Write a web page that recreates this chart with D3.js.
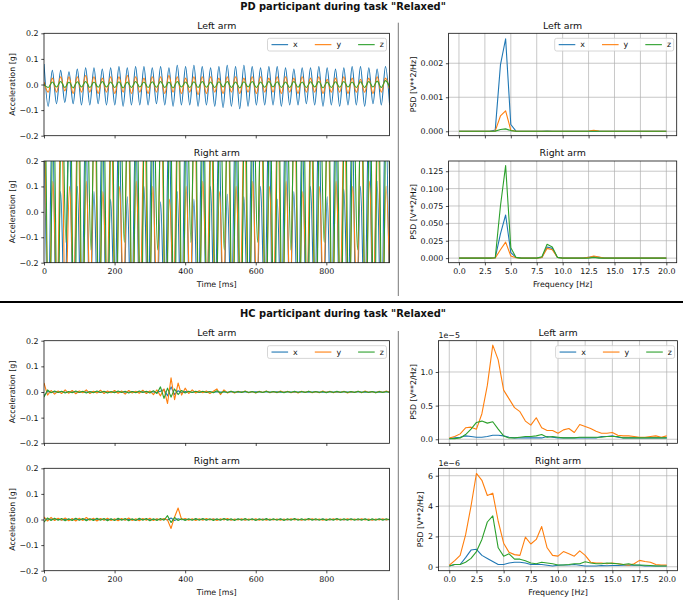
<!DOCTYPE html>
<html><head><meta charset="utf-8">
<script src="https://cdn.jsdelivr.net/npm/d3@7"></script>
<style>body{margin:0;background:#fff}svg{display:block}text{font-family:"DejaVu Sans",sans-serif}</style>
</head><body><svg id="chart"></svg>
<script>
// ---------------- DATA ----------------
const seriesNames = ["x", "y", "z"];
const timeTicks = [0, 200, 400, 600, 800];
const accelTicks = [-0.2, -0.1, 0, 0.1, 0.2];
const freqTicks = [0, 2.5, 5, 7.5, 10, 12.5, 15, 17.5, 20];
const pdLeftPsdTicks = [0, 0.001, 0.002];
const pdRightPsdTicks = [0, 0.025, 0.05, 0.075, 0.1, 0.125];
const hcLeftPsdTicks = [0, 0.5, 1.0];   // x 1e-5
const hcRightPsdTicks = [0, 2, 4, 6];   // x 1e-6
const timeMax = 979;       // ms
const pdStep = 11.8;       // ms between successive extrema (PD signals)
const hcStep = 10;         // ms between samples (HC signals)
const pdRightLag = [0, 1.6, 3.2]; // ms, x / y / z
const psdStep = 0.5;       // Hz

// PD participant, left arm (extrema)
const pdLeftX = [
 0.08,-0.085,0.055,-0.075,0.055,-0.07,0.05,-0.075,0.06,-0.08,0.065,-0.08,
 0.065,-0.075,0.06,-0.08,0.065,-0.08,0.07,-0.085,0.065,-0.08,0.07,-0.08,
 0.07,-0.08,0.065,-0.075,0.07,-0.08,0.065,-0.085,0.075,-0.08,0.07,-0.08,
 0.075,-0.085,0.07,-0.08,0.065,-0.085,0.07,-0.09,0.075,-0.085,0.07,-0.095,
 0.075,-0.085,0.07,-0.08,0.065,-0.08,0.07,-0.08,0.07,-0.085,0.065,-0.08,
 0.06,-0.08,0.065,-0.075,0.065,-0.08,0.07,-0.085,0.065,-0.08,0.06,-0.085,
 0.065,-0.08,0.07,-0.08,0.07,-0.085,0.065,-0.075,0.06,-0.08,0.07,-0.08];
const pdLeftY = [
 0.01,-0.03,0.025,-0.03,0.03,-0.025,0.03,-0.035,0.03,-0.03,0.035,-0.03,
 0.03,-0.035,0.025,-0.03,0.03,-0.035,0.03,-0.03,0.035,-0.035,0.03,-0.03,
 0.025,-0.035,0.03,-0.03,0.03,-0.035,0.035,-0.03,0.03,-0.035,0.025,-0.03,
 0.03,-0.04,0.03,-0.035,0.03,-0.03,0.025,-0.035,0.03,-0.03,0.03,-0.035,
 0.025,-0.03,0.03,-0.035,0.03,-0.03,0.025,-0.03,0.03,-0.035,0.03,-0.03,
 0.025,-0.035,0.03,-0.03,0.025,-0.03,0.03,-0.035,0.02,-0.03,0.025,-0.03,
 0.03,-0.035,0.025,-0.03,0.02,-0.03,0.025,-0.035,0.03,-0.03,0.025,-0.02];
const pdLeftZ = [
 0.0,-0.012,0.01,-0.01,0.012,-0.012,0.01,-0.013,0.011,-0.01,0.012,-0.012,
 0.01,-0.011,0.012,-0.01,0.01,-0.012,0.011,-0.013,0.01,-0.012,0.012,-0.01,
 0.01,-0.012,0.011,-0.011,0.012,-0.012,0.01,-0.013,0.012,-0.01,0.01,-0.012,
 0.011,-0.012,0.012,-0.011,0.01,-0.012,0.011,-0.01,0.012,-0.012,0.01,-0.013,
 0.011,-0.01,0.012,-0.012,0.01,-0.011,0.012,-0.01,0.011,-0.012,0.01,-0.012,
 0.012,-0.011,0.01,-0.012,0.011,-0.01,0.012,-0.013,0.01,-0.012,0.011,-0.011,
 0.012,-0.01,0.01,-0.012,0.011,-0.012,0.012,-0.01,0.013,-0.012,0.015,-0.01];

// PD participant, right arm (extrema, mostly beyond the +-0.2 view)
const pdRightX = [
 0.4,-0.45,0.4,-0.5,0.08,-0.45,0.4,-0.4,0.1,-0.5,0.38,-0.45,
 0.08,-0.45,0.4,-0.5,0.05,-0.4,0.4,-0.45,0.06,-0.5,0.35,-0.45,
 0.1,-0.4,0.4,-0.5,0.04,-0.45,0.38,-0.4,0.08,-0.5,0.4,-0.45,
 0.05,-0.45,0.4,-0.4,0.1,-0.5,0.35,-0.45,0.07,-0.4,0.4,-0.5,
 0.06,-0.45,0.38,-0.45,0.1,-0.4,0.4,-0.5,0.05,-0.45,0.4,-0.4,
 0.08,-0.5,0.35,-0.45,0.1,-0.4,0.4,-0.45,0.06,-0.5,0.4,-0.45,
 0.09,-0.4,0.38,-0.5,0.1,-0.45,0.4,-0.4,0.12,-0.5,0.4,-0.45];
const pdRightY = [
 0.4,-0.4,0.12,-0.35,0.45,-0.4,0.1,-0.3,0.4,-0.45,0.12,-0.35,
 0.45,-0.4,0.08,-0.3,0.4,-0.45,0.1,-0.35,0.45,-0.4,0.12,-0.3,
 0.4,-0.45,0.1,-0.35,0.45,-0.4,0.05,-0.3,0.4,-0.45,0.1,-0.35,
 0.45,-0.4,0.12,-0.3,0.4,-0.45,0.08,-0.35,0.45,-0.4,0.1,-0.3,
 0.4,-0.45,0.12,-0.35,0.45,-0.4,0.1,-0.3,0.4,-0.45,0.12,-0.35,
 0.45,-0.4,0.08,-0.3,0.4,-0.45,0.1,-0.35,0.45,-0.4,0.12,-0.3,
 0.4,-0.45,0.1,-0.35,0.45,-0.4,0.12,-0.3,0.4,-0.45,0.1,-0.35];
const pdRightZ = [
 0.55,-0.6,0.5,-0.55,0.55,-0.12,0.5,-0.6,0.55,-0.55,0.5,-0.15,
 0.55,-0.6,0.5,-0.55,0.55,-0.6,0.5,-0.12,0.55,-0.55,0.5,-0.6,
 0.55,-0.55,0.5,-0.15,0.55,-0.6,0.5,-0.55,0.55,-0.6,0.5,-0.12,
 0.55,-0.55,0.5,-0.6,0.55,-0.55,0.5,-0.15,0.55,-0.6,0.5,-0.55,
 0.55,-0.6,0.5,-0.12,0.55,-0.55,0.5,-0.6,0.55,-0.55,0.5,-0.15,
 0.55,-0.6,0.5,-0.55,0.55,-0.6,0.5,-0.12,0.55,-0.55,0.5,-0.6,
 0.55,-0.55,0.5,-0.15,0.55,-0.6,0.5,-0.55,0.55,-0.6,0.5,-0.12];

// HC participant, left arm (every 10 ms)
const hcLeftX = [
 -0.015,0.002,-0.002,0.001,-0.001,0.002,0,-0.001,0.001,0,-0.001,
 0.001,0,-0.001,0.002,0,-0.001,0.001,0,-0.002,0.001,0,
 0.001,-0.001,0,0.002,-0.001,0,0.001,-0.001,0.002,0,-0.002,
 0.003,0.01,-0.015,0.02,-0.01,0.005,-0.003,0.002,0,-0.001,0.001,
 0,-0.001,0.001,0,-0.001,0.001,0,0,-0.001,0.001,0,
 -0.001,0.001,0,-0.001,0,0.001,0,-0.001,0.001,0,0,
 0.001,-0.001,0,0.001,0,-0.001,0,0.001,0,-0.001,0,
 0.001,0,-0.001,0,0.001,0,-0.001,0,0.001,0,-0.001,
 0,0.001,0,-0.001,0,0.001,0,-0.001,0,0.001,0];
const hcLeftY = [
 0.035,-0.012,0.006,-0.008,0.004,-0.006,0.008,-0.005,0.006,-0.007,0.004,
 -0.003,0.008,-0.006,0.003,-0.004,0.007,-0.006,0.004,-0.003,0.006,-0.005,
 0.004,-0.008,0.006,-0.004,0.003,-0.005,0.007,-0.006,0.004,-0.01,0.008,
 -0.015,0.012,-0.045,0.055,-0.03,0.035,-0.012,0.015,-0.006,0.008,-0.004,
 0.005,-0.003,0.004,-0.006,0.003,0.012,-0.01,0.008,-0.004,0.003,-0.004,
 0.003,-0.002,0.004,-0.003,0.002,-0.004,0.003,-0.002,0.004,-0.003,0.002,
 -0.003,0.004,-0.002,0.003,-0.003,0.002,-0.004,0.003,-0.002,0.003,-0.003,
 0.002,-0.003,0.004,-0.002,0.003,-0.003,0.002,-0.002,0.003,-0.004,0.002,
 -0.002,0.003,-0.003,0.004,-0.002,0.002,-0.003,0.003,-0.002,0.004,-0.002];
const hcLeftZ = [
 -0.02,0.008,-0.003,0.004,-0.002,0.003,-0.004,0.002,-0.003,0.004,-0.002,
 0.003,-0.004,0.002,-0.003,0.004,-0.002,0.003,-0.004,0.002,-0.003,0.004,
 -0.002,0.003,-0.004,0.002,-0.003,0.004,-0.002,0.003,-0.004,0.005,-0.006,
 0.02,-0.025,0.015,-0.02,0.012,-0.01,0.006,-0.004,0.003,-0.002,0.003,
 -0.002,0.003,-0.002,0.002,-0.003,0.005,-0.004,0.002,-0.002,0.003,-0.002,
 0.002,-0.002,0.003,-0.002,0.002,-0.003,0.002,-0.002,0.003,-0.002,0.002,
 -0.002,0.002,-0.003,0.002,-0.002,0.003,-0.002,0.002,-0.002,0.003,-0.002,
 0.002,-0.002,0.002,-0.003,0.002,-0.002,0.003,-0.002,0.002,-0.002,0.002,
 -0.002,0.003,-0.002,0.002,-0.002,0.002,-0.003,0.002,-0.002,0.002,-0.002];

// HC participant, right arm (every 10 ms)
const hcRightX = [
 0.005,-0.002,0.002,-0.001,0.001,-0.002,0.001,0,-0.001,0.002,-0.001,
 0.001,-0.001,0.001,0,-0.001,0.002,-0.001,0,0.001,-0.001,0.001,
 0,-0.001,0.001,0,-0.002,0.001,0,0.001,-0.001,0,0.001,
 -0.001,0.002,-0.002,0.006,-0.004,0.003,-0.001,0.001,0,-0.001,0.001,
 0,0.001,-0.001,0,0.001,0,-0.001,0.001,0,-0.001,0,
 0.001,0,-0.001,0,0.001,-0.001,0,0.001,0,-0.001,0,
 0,0.001,0,-0.001,0,0.001,0,-0.001,0,0.001,0,
 -0.001,0,0.001,0,-0.001,0,0.001,0,-0.001,0,0.001,
 0,-0.001,0,0.001,0,-0.001,0,0.001,0,-0.001,0];
const hcRightY = [
 0.01,-0.006,0.008,-0.004,0.005,-0.003,0.006,-0.005,0.004,-0.006,0.005,
 -0.004,0.008,-0.003,0.005,-0.006,0.004,-0.003,0.005,-0.004,0.003,-0.005,
 0.004,-0.003,0.006,-0.004,0.003,-0.005,0.004,-0.003,0.005,-0.004,0.003,
 -0.003,0.004,-0.002,-0.035,0.01,0.045,0.0,0.004,-0.003,0.003,-0.004,
 0.003,-0.003,0.004,-0.002,0.003,-0.004,0.003,-0.002,0.004,-0.003,0.002,
 -0.002,0.003,-0.003,0.002,-0.002,0.003,-0.003,0.002,-0.003,0.002,-0.002,
 0.002,-0.003,0.002,-0.002,0.003,-0.002,0.002,-0.003,0.002,-0.002,0.003,
 -0.002,0.002,-0.003,0.002,-0.002,0.003,-0.002,0.002,-0.002,0.003,-0.002,
 0.002,-0.002,0.003,-0.002,0.002,-0.003,0.002,-0.002,0.003,-0.002,0.002];
const hcRightZ = [
 -0.01,0.006,-0.004,0.005,-0.003,0.004,-0.005,0.003,-0.004,0.005,-0.003,
 0.004,-0.005,0.003,-0.004,0.005,-0.003,0.004,-0.005,0.003,-0.004,0.005,
 -0.003,0.004,-0.005,0.003,-0.004,0.005,-0.003,0.004,-0.005,0.003,-0.004,
 0.004,-0.003,0.015,-0.012,0.008,-0.004,0.003,-0.004,0.003,-0.003,0.004,
 -0.003,0.004,-0.003,0.003,-0.004,0.003,-0.003,0.004,-0.003,0.003,-0.004,
 0.003,-0.003,0.004,-0.003,0.003,-0.004,0.003,-0.003,0.004,-0.003,0.003,
 -0.003,0.003,-0.004,0.003,-0.003,0.004,-0.003,0.003,-0.003,0.004,-0.003,
 0.003,-0.003,0.003,-0.004,0.003,-0.003,0.004,-0.003,0.003,-0.003,0.003,
 -0.003,0.003,-0.003,0.003,-0.004,0.003,-0.003,0.003,-0.003,0.003,-0.002];

// PSD (0 .. 20 Hz, 0.5 Hz step)
const pdLeftPsdX = [0,0,0,0,0,0,0,0.00004,0.00195,0.00272, 0.0002,0.000005,0,0,0,0,0,0.000005,0.000003,0, 0,0,0,0,0,0,0.000004,0,0,0, 0,0,0,0,0,0,0,0,0,0, 0];
const pdLeftPsdY = [0,0,0,0,0,0,0,0.00001,0.00045,0.0006, 0.00003,0,0,0,0,0,0,0.000003,0,0, 0,0,0,0,0,0.00001,0.00003,0.00001,0,0, 0,0,0,0,0,0,0,0,0,0, 0];
const pdLeftPsdZ = [0,0,0,0,0,0,0,0.000005,0.00005,0.00007, 0.00002,0,0,0,0,0,0,0,0,0, 0,0,0,0,0,0,0,0,0,0, 0,0,0,0,0,0,0,0,0,0, 0];
const pdRightPsdX = [0,0,0,0,0,0,0,0.0005,0.035,0.062, 0.008,0.001,0,0,0,0,0.001,0.016,0.014,0.001, 0,0,0,0,0,0.001,0.002,0.001,0,0, 0,0,0,0,0,0,0,0,0,0, 0];
const pdRightPsdY = [0,0,0,0,0,0,0,0.0003,0.012,0.023, 0.003,0.0005,0,0,0,0,0.001,0.014,0.012,0.001, 0,0,0,0,0,0.001,0.003,0.0015,0,0, 0,0,0,0,0,0,0,0,0,0, 0];
const pdRightPsdZ = [0,0,0,0,0,0,0,0.0005,0.075,0.133, 0.015,0.001,0,0,0,0,0.002,0.02,0.016,0.001, 0,0,0,0,0,0,0.001,0,0,0, 0,0,0,0,0,0,0,0,0,0, 0];
// HC PSD, in units of 1e-5 (left) and 1e-6 (right)
const hcLeftPsdX = [0.01,0.02,0.03,0.05,0.04,0.03,0.03,0.04,0.06,0.06, 0.05,0.03,0.02,0.02,0.02,0.02,0.02,0.02,0.04,0.03, 0.02,0.02,0.02,0.02,0.02,0.02,0.02,0.02,0.04,0.04, 0.05,0.03,0.02,0.02,0.02,0.02,0.02,0.02,0.02,0.02, 0.02];
const hcLeftPsdY = [0.02,0.04,0.08,0.17,0.18,0.15,0.38,0.8,1.4,1.18, 0.73,0.6,0.47,0.41,0.27,0.21,0.32,0.17,0.13,0.13, 0.09,0.14,0.16,0.1,0.22,0.19,0.16,0.12,0.09,0.09, 0.1,0.06,0.05,0.05,0.04,0.03,0.03,0.04,0.05,0.03, 0.05];
const hcLeftPsdZ = [0.01,0.01,0.02,0.07,0.15,0.25,0.27,0.24,0.26,0.15, 0.05,0.02,0.02,0.03,0.04,0.04,0.05,0.07,0.03,0.04, 0.03,0.02,0.02,0.02,0.03,0.03,0.03,0.03,0.03,0.04, 0.04,0.04,0.02,0.02,0.02,0.02,0.02,0.02,0.02,0.02, 0.02];
const hcRightPsdX = [0.05,0.15,0.15,0.6,1.1,1.15,0.75,0.55,0.35,0.15, 0.15,0.25,0.3,0.3,0.25,0.15,0.15,0.15,0.1,0.05, 0.1,0.12,0.12,0.15,0.1,0.05,0.05,0.05,0.08,0.07, 0.08,0.08,0.1,0.12,0.1,0.1,0.05,0.05,0.05,0.05, 0.05];
const hcRightPsdY = [0.1,0.4,0.75,2.1,4.0,6.15,5.7,4.7,4.85,3.0, 1.55,0.95,0.8,0.75,1.95,1.5,1.8,2.65,1.25,0.75, 0.7,1.0,0.85,0.7,1.05,0.75,0.3,0.25,0.25,0.2, 0.25,0.2,0.15,0.1,0.2,0.42,0.35,0.3,0.15,0.12, 0.12];
const hcRightPsdZ = [0.05,0.15,0.15,0.3,0.55,1.0,1.8,2.95,3.35,1.25, 0.7,0.85,0.5,0.5,0.4,0.25,0.2,0.3,0.25,0.2, 0.12,0.12,0.15,0.2,0.2,0.33,0.25,0.2,0.2,0.25, 0.22,0.2,0.15,0.2,0.12,0.12,0.1,0.08,0.05,0.05, 0.05];

// ---------------- DRAWING ----------------
const W = 683, H = 604;
const svg = d3.select("#chart").attr("width", W).attr("height", H);
const COLORS = ["#1f77b4", "#ff7f0e", "#2ca02c"];
const FS = 7.9, TFS = 9.4, FONT = "DejaVu Sans";
let clipCount = 0;

const fmtAccel = v => (v < 0 ? "\u2212" : "") + Math.abs(v).toFixed(1);

function drawPanel(o) {
  const g = svg.append("g");
  const x = d3.scaleLinear().domain(o.xDomain).range([o.x0, o.x1]);
  const y = d3.scaleLinear().domain(o.yDomain).range([o.y1, o.y0]);
  if (o.grid) {
    const gg = g.append("g").attr("stroke", "#b0b0b0").attr("stroke-width", 0.7);
    gg.selectAll("line.vx").data(o.xTicks).join("line")
      .attr("x1", d => x(d)).attr("x2", d => x(d)).attr("y1", o.y0).attr("y2", o.y1);
    gg.selectAll("line.hy").data(o.yTicks).join("line")
      .attr("x1", o.x0).attr("x2", o.x1).attr("y1", d => y(d)).attr("y2", d => y(d));
  }
  const id = "clip" + (clipCount++);
  g.append("clipPath").attr("id", id).append("rect")
    .attr("x", o.x0).attr("y", o.y0).attr("width", o.x1 - o.x0).attr("height", o.y1 - o.y0);
  const lg = g.append("g").attr("clip-path", `url(#${id})`);
  o.series.forEach((s, i) => {
    const line = d3.line().x((d, j) => x(s.t(j))).y(d => y(d)).curve(o.curve || d3.curveLinear);
    lg.append("path").attr("d", line(s.v)).attr("fill", "none")
      .attr("stroke", COLORS[i]).attr("stroke-width", 1.1).attr("stroke-linejoin", "round");
  });
  g.append("rect").attr("x", o.x0).attr("y", o.y0).attr("width", o.x1 - o.x0).attr("height", o.y1 - o.y0)
    .attr("fill", "none").attr("stroke", "#111").attr("stroke-width", 0.8);

  const xa = d3.axisBottom(x).tickValues(o.xTicks).tickSize(2.7).tickPadding(2.7)
    .tickFormat(o.showXLabels ? o.xFmt : () => "");
  const xg = g.append("g").attr("transform", `translate(0,${o.y1})`).call(xa);
  const ya = d3.axisLeft(y).tickValues(o.yTicks).tickSize(2.7).tickPadding(2.7).tickFormat(o.yFmt);
  const yg = g.append("g").attr("transform", `translate(${o.x0},0)`).call(ya);
  [xg, yg].forEach(a => {
    a.attr("font-size", FS).attr("font-family", FONT);
    a.select(".domain").remove();
    a.selectAll("line").attr("stroke", "#000").attr("stroke-width", 0.7);
    a.selectAll("text").attr("fill", "#111");
  });
  g.append("text").attr("x", (o.x0 + o.x1) / 2).attr("y", o.y0 - 4.6)
    .attr("text-anchor", "middle").attr("font-size", TFS).attr("fill", "#111").text(o.title);
  const bb = yg.node().getBBox();
  g.append("text").attr("transform", `translate(${o.x0 + bb.x - 4.9},${(o.y0 + o.y1) / 2}) rotate(-90)`)
    .attr("text-anchor", "middle").attr("font-size", FS).attr("fill", "#111").text(o.yLabel);
  if (o.xLabel) {
    g.append("text").attr("x", (o.x0 + o.x1) / 2).attr("y", o.y1 + 24)
      .attr("text-anchor", "middle").attr("font-size", FS).attr("fill", "#111").text(o.xLabel);
  }
  if (o.offsetText) {
    g.append("text").attr("x", o.x0).attr("y", o.y0 - 2.5)
      .attr("font-size", FS).attr("fill", "#111").text(o.offsetText);
  }
  if (o.legend) {
    const bw = 119, bh = 12.7, bx = o.x1 - 3 - bw, by = o.y0 + 5;
    const lgd = g.append("g");
    lgd.append("rect").attr("x", bx).attr("y", by).attr("width", bw).attr("height", bh).attr("rx", 2)
      .attr("fill", "#fff").attr("fill-opacity", 0.8).attr("stroke", "#cccccc").attr("stroke-width", 0.8);
    seriesNames.forEach((nm, i) => {
      const lx = bx + 4 + i * 43.3, ly = by + bh / 2;
      lgd.append("line").attr("x1", lx).attr("x2", lx + 16.6).attr("y1", ly).attr("y2", ly)
        .attr("stroke", COLORS[i]).attr("stroke-width", 1.1);
      lgd.append("text").attr("x", lx + 21.6).attr("y", ly + 2.8).attr("font-size", FS).attr("fill", "#111").text(nm);
    });
  }
}

const tsX0 = 44, tsX1 = 389.5;
const pdPsdX0 = 448.6, pdPsdX1 = 676.7, hcPsdX0 = 438.4, hcPsdX1 = 677.6;
const rows = { pdTop: [33.3, 135.7], pdBot: [161, 262.7], hcTop: [340.7, 443.3], hcBot: [468.3, 570.7] };

const pdT = (lag) => j => j * pdStep + lag;
const hcT = j => j * hcStep;
const fT = j => j * psdStep;

function tsPanel(r, title, vals, tfun, opts) {
  drawPanel(Object.assign({
    x0: tsX0, x1: tsX1, y0: r[0], y1: r[1], xDomain: [0, timeMax], yDomain: [-0.2, 0.2],
    xTicks: timeTicks, xFmt: d3.format("d"), yTicks: accelTicks, yFmt: fmtAccel,
    title: title, yLabel: "Acceleration [g]",
    series: vals.map((v, i) => ({ v: v, t: tfun[i] }))
  }, opts));
}
function psdPanel(r, x0, x1, title, vals, yDomain, yTicks, yFmt, opts) {
  drawPanel(Object.assign({
    x0: x0, x1: x1, y0: r[0], y1: r[1], xDomain: [-1, 21], yDomain: yDomain,
    xTicks: freqTicks, xFmt: d3.format(".1f"), yTicks: yTicks, yFmt: yFmt, grid: true,
    title: title, yLabel: "PSD [V**2/Hz]",
    series: vals.map(v => ({ v: v, t: fT }))
  }, opts));
}

// PD section
tsPanel(rows.pdTop, "Left arm", [pdLeftX, pdLeftY, pdLeftZ], [pdT(0), pdT(0), pdT(0)],
  { curve: d3.curveMonotoneX, legend: true });
tsPanel(rows.pdBot, "Right arm", [pdRightX, pdRightY, pdRightZ],
  [pdT(pdRightLag[0]), pdT(pdRightLag[1]), pdT(pdRightLag[2])],
  { curve: d3.curveMonotoneX, showXLabels: true, xLabel: "Time [ms]" });
psdPanel(rows.pdTop, pdPsdX0, pdPsdX1, "Left arm", [pdLeftPsdX, pdLeftPsdY, pdLeftPsdZ],
  [-0.00013, 0.00288], pdLeftPsdTicks, d3.format(".3f"), { legend: true });
psdPanel(rows.pdBot, pdPsdX0, pdPsdX1, "Right arm", [pdRightPsdX, pdRightPsdY, pdRightPsdZ],
  [-0.0066, 0.1397], pdRightPsdTicks, d3.format(".3f"), { showXLabels: true, xLabel: "Frequency [Hz]" });

// HC section
tsPanel(rows.hcTop, "Left arm", [hcLeftX, hcLeftY, hcLeftZ], [hcT, hcT, hcT], { legend: true });
tsPanel(rows.hcBot, "Right arm", [hcRightX, hcRightY, hcRightZ], [hcT, hcT, hcT],
  { showXLabels: true, xLabel: "Time [ms]" });
psdPanel(rows.hcTop, hcPsdX0, hcPsdX1, "Left arm", [hcLeftPsdX, hcLeftPsdY, hcLeftPsdZ],
  [-0.06, 1.465], hcLeftPsdTicks, d3.format(".1f"), { legend: true, offsetText: "1e\u22125" });
psdPanel(rows.hcBot, hcPsdX0, hcPsdX1, "Right arm", [hcRightPsdX, hcRightPsdY, hcRightPsdZ],
  [-0.26, 6.49], hcRightPsdTicks, d3.format("d"),
  { showXLabels: true, xLabel: "Frequency [Hz]", offsetText: "1e\u22126" });

// suptitles & separators
svg.append("text").attr("x", 343).attr("y", 9.5).attr("text-anchor", "middle")
  .attr("font-size", 9.9).attr("font-weight", "bold").attr("fill", "#111")
  .text('PD participant during task "Relaxed"');
svg.append("text").attr("x", 343).attr("y", 317).attr("text-anchor", "middle")
  .attr("font-size", 9.9).attr("font-weight", "bold").attr("fill", "#111")
  .text('HC participant during task "Relaxed"');
svg.append("line").attr("x1", 398.3).attr("x2", 398.3).attr("y1", 22.7).attr("y2", 296)
  .attr("stroke", "#777").attr("stroke-width", 1);
svg.append("line").attr("x1", 398.3).attr("x2", 398.3).attr("y1", 331).attr("y2", 600)
  .attr("stroke", "#777").attr("stroke-width", 1);
svg.append("line").attr("x1", 0).attr("x2", W).attr("y1", 302).attr("y2", 302)
  .attr("stroke", "#000").attr("stroke-width", 2);
</script>
</body></html>
